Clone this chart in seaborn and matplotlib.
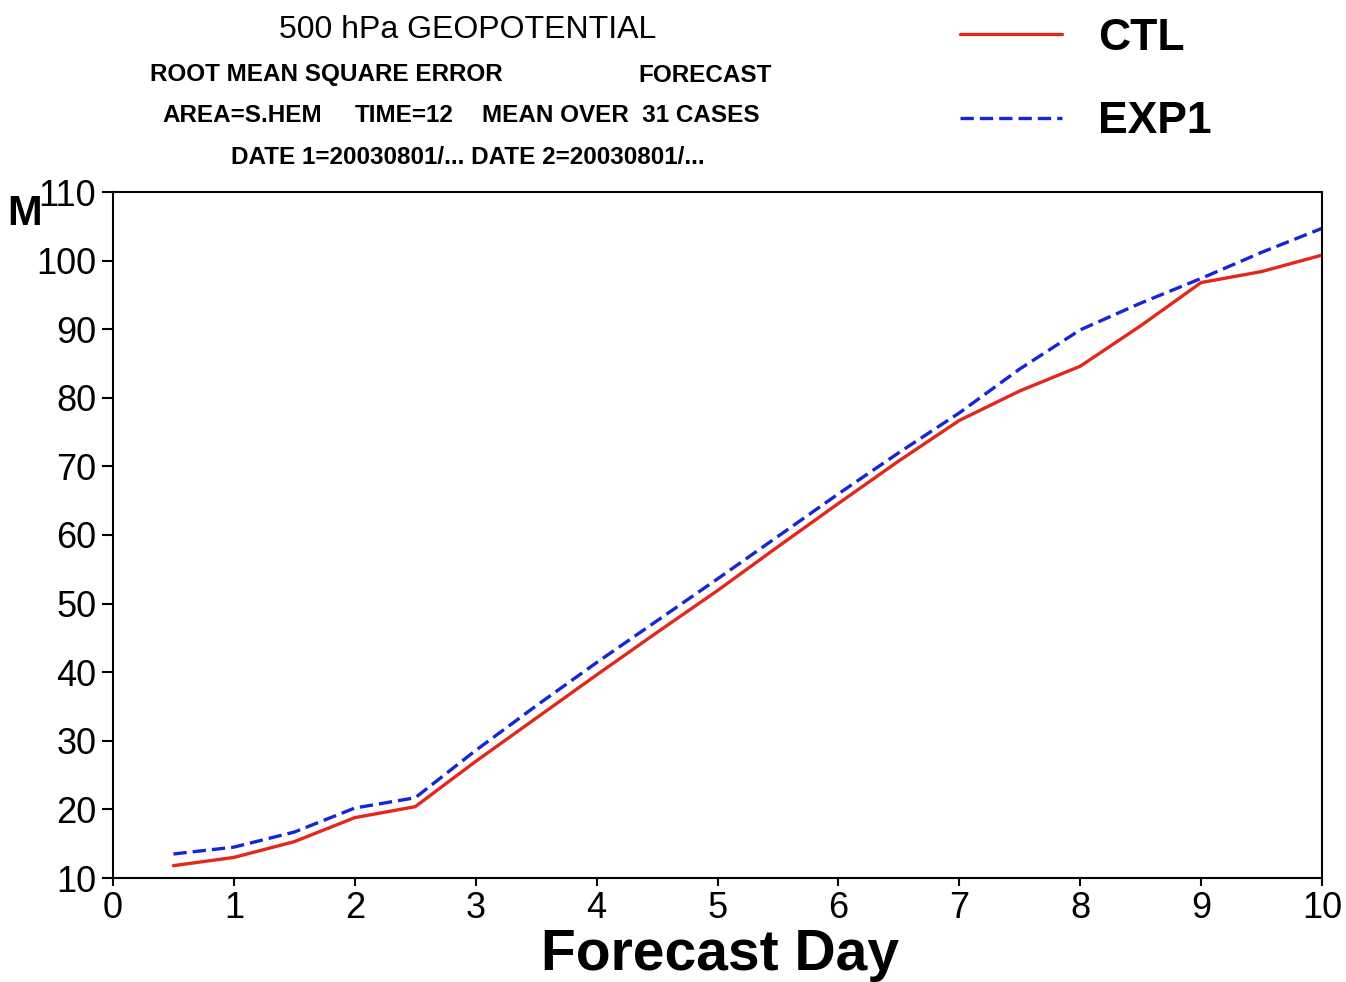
import matplotlib
matplotlib.use("Agg")
import matplotlib.pyplot as plt
import seaborn as sns
import pandas as pd
from matplotlib import font_manager

# datos (RMSE geopotencial 500 hPa, hemisferio sur)
dias = [0.5, 1.0, 1.5, 2.0, 2.5, 3.0, 3.5, 4.0, 4.5, 5.0,
        5.5, 6.0, 6.5, 7.0, 7.5, 8.0, 8.5, 9.0, 9.5, 10.0]
rmse_ctl = [11.8, 13.0, 15.3, 18.8, 20.4, 27.0, 33.3, 39.6, 45.8, 51.9,
            58.3, 64.6, 70.8, 76.7, 81.0, 84.6, 90.5, 96.8, 98.4, 100.8]
rmse_exp1 = [13.5, 14.5, 16.7, 20.2, 21.7, 28.6, 35.1, 41.4, 47.5, 53.6,
             59.8, 66.0, 72.0, 77.8, 84.2, 89.9, 93.8, 97.4, 101.2, 104.7]
experimentos = ["CTL", "EXP1"]
ticks_y = list(range(10, 111, 10))
ticks_x = list(range(0, 11))

W, H = 1346, 982

sns.set_theme(style="white")
nombres = {f.name for f in font_manager.fontManager.ttflist}
fuente = "Liberation Sans" if "Liberation Sans" in nombres else "DejaVu Sans"
plt.rcParams["font.family"] = [fuente, "DejaVu Sans"]
plt.rcParams["text.color"] = "black"

df = pd.DataFrame({
    "dia": dias * 2,
    "rmse": rmse_ctl + rmse_exp1,
    "exp": [experimentos[0]] * len(dias) + [experimentos[1]] * len(dias),
})

fig = plt.figure(figsize=(W / 100, H / 100), dpi=100)
ax = fig.add_axes([113 / W, 1 - 878 / H, (1322 - 113) / W, (878 - 192) / H])

sns.lineplot(data=df, x="dia", y="rmse", hue="exp", style="exp",
             palette={"CTL": "#e2281c", "EXP1": "#1526d6"},
             dashes={"CTL": "", "EXP1": (4, 1.8)},
             linewidth=2.4, ax=ax)

ax.set_xlim(0, 10)
ax.set_ylim(10, 110)
ax.set_xticks(ticks_x)
ax.set_yticks(ticks_y)
ax.set_xlabel("")
ax.set_ylabel("")
ax.tick_params(axis="both", which="major", direction="out", width=1.5,
               labelsize=26, color="black", labelcolor="black",
               bottom=True, left=True)
ax.tick_params(axis="y", length=8, pad=4)
ax.tick_params(axis="x", length=6, pad=3)
for lado in ax.spines.values():
    lado.set_visible(True)
    lado.set_color("black")
    lado.set_linewidth(1.5)

# leyenda arriba a la derecha
handles, labels = ax.get_legend_handles_labels()
ax.get_legend().remove()
fig.legend(handles, labels, loc="upper left", bbox_to_anchor=(920 / W, 1 + 22 / H),
           frameon=False, handlelength=2.3, handletextpad=0.8, labelspacing=0.95,
           prop={"family": fuente, "weight": "bold", "size": 32})

# titulos
fig.text(468 / W, 1 - 30 / H, "500 hPa GEOPOTENTIAL", ha="center", va="center",
         fontsize=23)
fig.text(150 / W, 1 - 75 / H, "ROOT MEAN SQUARE ERROR", ha="left", va="center",
         fontsize=17.5, weight="bold")
fig.text(772 / W, 1 - 75 / H, "FORECAST", ha="right", va="center",
         fontsize=17.5, weight="bold")
fig.text(162 / W, 1 - 116 / H, "AREA=S.HEM", ha="left", va="center",
         fontsize=17.5, weight="bold")
fig.text(355 / W, 1 - 116 / H, "TIME=12", ha="left", va="center",
         fontsize=17.5, weight="bold")
fig.text(760 / W, 1 - 116 / H, "MEAN OVER  31 CASES", ha="right", va="center",
         fontsize=17.5, weight="bold")
fig.text(468 / W, 1 - 158 / H, "DATE 1=20030801/... DATE 2=20030801/...",
         ha="center", va="center", fontsize=17.5, weight="bold")

fig.text(25 / W, 1 - 214 / H, "M", ha="center", va="center",
         fontsize=30, weight="bold")
fig.text(720 / W, 1 - 955 / H, "Forecast Day", ha="center", va="center",
         fontsize=41, weight="bold")

fig.savefig("out.png", dpi=100)
plt.close(fig)
